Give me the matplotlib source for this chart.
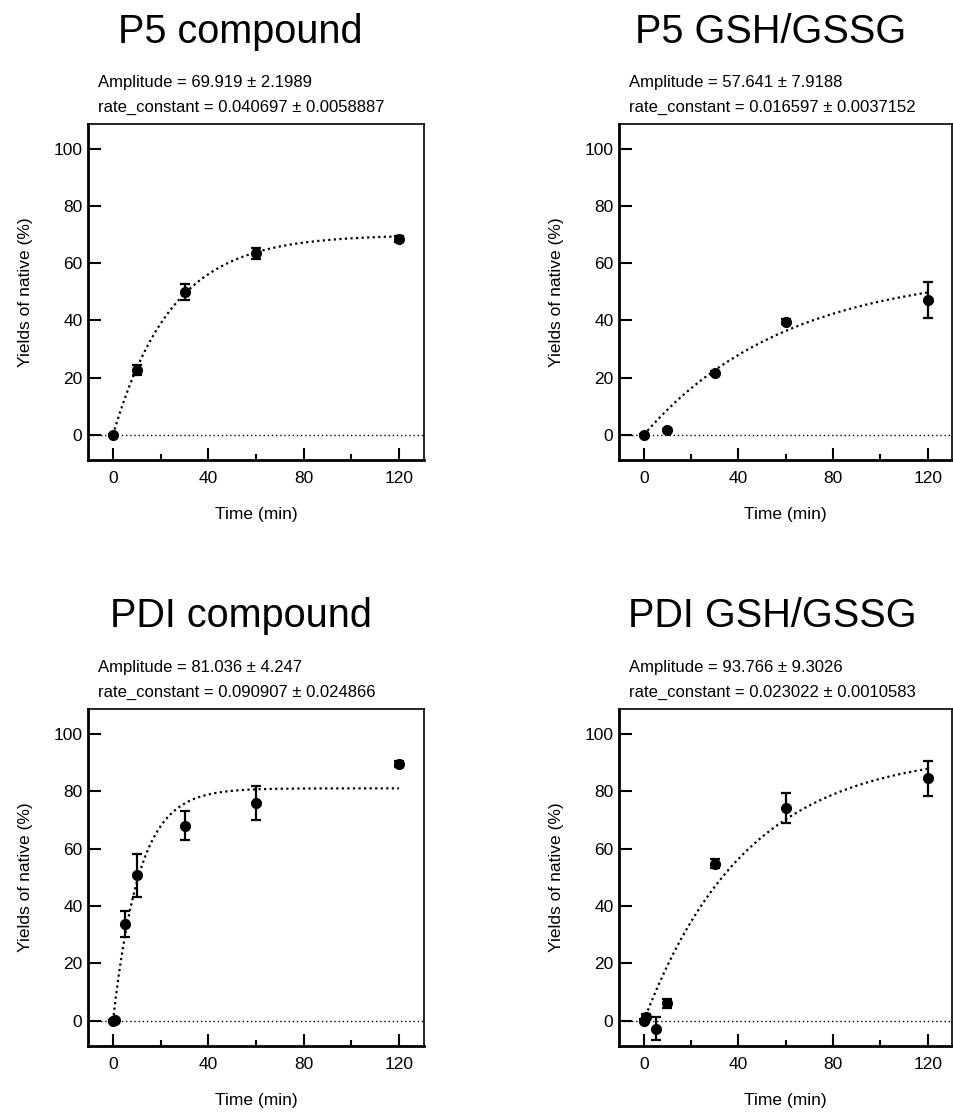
import numpy as np
import matplotlib
matplotlib.use("Agg")
import matplotlib.pyplot as plt

plt.rcParams['font.family'] = ['Liberation Sans', 'DejaVu Sans']

# data
titles = ["P5 compound", "P5 GSH/GSSG", "PDI compound", "PDI GSH/GSSG"]

p5c_t = [0, 10, 30, 60, 120]
p5c_y = [0, 22.7, 49.9, 63.5, 68.4]
p5c_err = [0.3, 1.7, 2.8, 2.0, 1.0]

p5g_t = [0, 10, 30, 60, 120]
p5g_y = [0, 1.7, 21.6, 39.6, 47.2]
p5g_err = [0.3, 0.5, 0.6, 1.0, 6.3]

pdic_t = [0, 1, 5, 10, 30, 60, 120]
pdic_y = [0, 0.2, 33.6, 50.7, 68.0, 76.0, 89.5]
pdic_err = [0.3, 0.5, 4.5, 7.5, 5.0, 5.9, 1.0]

pdig_t = [0, 1, 5, 10, 30, 60, 120]
pdig_y = [0, 1.4, -2.7, 6.1, 54.8, 74.2, 84.5]
pdig_err = [0.5, 1.0, 3.9, 1.6, 1.5, 5.2, 6.2]

# fit parameters (Amplitude, rate_constant) as printed
amp = [69.919, 57.641, 81.036, 93.766]
amp_err = ["2.1989", "7.9188", "4.247", "9.3026"]
rate = [0.040697, 0.016597, 0.090907, 0.023022]
rate_err = ["0.0058887", "0.0037152", "0.024866", "0.0010583"]
amp_txt = ["69.919", "57.641", "81.036", "93.766"]
rate_txt = ["0.040697", "0.016597", "0.090907", "0.023022"]

series = [(p5c_t, p5c_y, p5c_err), (p5g_t, p5g_y, p5g_err),
          (pdic_t, pdic_y, pdic_err), (pdig_t, pdig_y, pdig_err)]

W, H = 954, 1112
fig = plt.figure(figsize=(W / 100, H / 100), dpi=100)

# axes boxes in pixels: left, top, right, bottom
boxes = [(88, 124, 424, 460), (619, 124, 952.5, 460),
         (88, 709, 424, 1046), (619, 709, 952.5, 1046)]
title_pos = [(240, 43), (771, 43), (241, 627), (772, 627)]

for i in range(4):
    l, t, r, b = boxes[i]
    ax = fig.add_axes([l / W, 1 - b / H, (r - l) / W, (b - t) / H])
    tt, yy, ee = series[i]

    ax.axhline(0, color='black', lw=1.0, ls=(0, (1, 2)), zorder=1)
    xf = np.linspace(0, 120, 300)
    ax.plot(xf, amp[i] * (1 - np.exp(-rate[i] * xf)), color='black',
            lw=1.6, ls=(0, (1, 1.5)), zorder=2)
    ax.errorbar(tt, yy, yerr=ee, fmt='o', color='black', ms=7,
                elinewidth=1.6, capsize=3.6, capthick=1.6, zorder=3)

    ax.set_xlim(-10.5, 130.5)
    ax.set_ylim(-8.8, 108.7)
    ax.set_xticks([0, 40, 80, 120])
    ax.set_xticks([20, 60, 100], minor=True)
    ax.set_yticks([0, 20, 40, 60, 80, 100])
    ax.tick_params(axis='both', which='major', direction='in', length=9,
                   width=1.5, labelsize=12.5)
    ax.tick_params(axis='x', which='major', pad=8)
    ax.tick_params(axis='y', which='major', pad=4)
    ax.tick_params(axis='x', which='minor', direction='in', length=4.5,
                   width=1.5)
    ax.spines['left'].set_linewidth(2.0)
    ax.spines['bottom'].set_linewidth(2.0)
    ax.spines['top'].set_linewidth(1.2)
    ax.spines['right'].set_linewidth(1.2)

    ax.set_xlabel("Time (min)", fontsize=12.5, labelpad=15)
    ax.set_ylabel("Yields of native (%)", fontsize=12.5, labelpad=15)

    ax.text(0.03, 1.11, "Amplitude = " + amp_txt[i] + " \u00b1 " + amp_err[i],
            transform=ax.transAxes, fontsize=12, va='baseline')
    ax.text(0.03, 1.036, "rate_constant = " + rate_txt[i] + " \u00b1 " + rate_err[i],
            transform=ax.transAxes, fontsize=12, va='baseline')

    tx, ty = title_pos[i]
    fig.text(tx / W, 1 - ty / H, titles[i], fontsize=28.5, ha='center',
             va='baseline')

fig.savefig("out.png", dpi=100)
